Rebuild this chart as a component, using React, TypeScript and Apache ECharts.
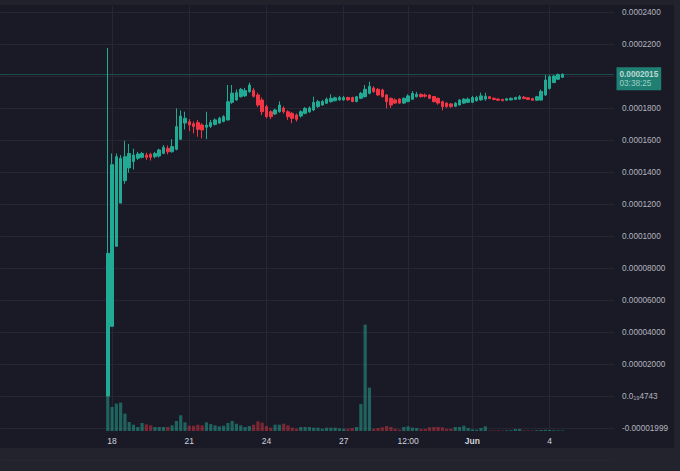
import React, { useEffect, useRef } from "react";
import * as echarts from "echarts";

// Prices in millionths (1 = 0.000001)
const OPEN = [0.5,44,94,121,135,143,147,149,149.6,151,151.5,150,150.4,152.1,155.2,153.1,154.6,160.9,171,171.9,170.6,171.3,169.8,168.4,168.9,170.2,171,172,173,184,185.4,187.5,188,190.6,191.5,188.6,185.4,181.3,178.1,176.7,178.1,180.4,178.1,177.1,176.1,175.4,177.1,178,179.2,181.3,182.3,183.4,184.4,185,185.5,185.5,187,187,184.5,186.5,187.5,189.6,193,192.1,191.7,188.6,186.5,185.5,186,183.5,184.5,185.9,187.5,189,188.5,188.5,187.6,186.5,184.4,183.5,183,181.5,182.3,183.5,184,184,185,185.5,186,187.5,186.5,186,185.8,185.3,185.5,185.8,186,187.2,186.8,186.3,185.3,185.4,188.6,192.7,196.3,198.4,199.6];
const CLOSE = [89.6,145,150,149,150,152,151,151.7,152,149.6,149.6,152,154.2,155.9,153.1,156.3,168.8,175.4,174,169.8,168.9,167.1,166.7,169.8,171.3,173,174.1,175,184.4,189.7,190,192.1,191.3,194.8,187.8,182.3,178.1,175,175,179.2,182.3,178.1,175,174,173.4,178.1,180.2,180.5,183.9,184.4,184.5,186,186.5,186.8,187,187,185.5,184.5,187.5,189.6,192.1,194,190.6,188.6,187.5,184.4,182.3,183.5,183.5,186.5,188,189.6,189,187.5,187.8,186.5,184.4,183.5,181.3,181.3,181.3,183.5,185.4,186,186,187,187,188,187.8,186.3,185.8,185.3,185,186.2,186.5,187,187.5,186.3,185.8,185.3,187.5,190.8,197.9,200,200.4,201.3,201.5];
const LOW = [0.2,44,94,121,133,140,142,148,149,148,147.6,149,149.5,151.5,151.5,152.5,154,160.5,167,166,164.6,162.5,161.5,161,168,169.5,170.5,171.5,172.5,183,185,187,187.5,190,187,181,176,174,173.5,176,177.5,177,173,170.9,172,174.5,176.5,177.5,178.5,180.5,181.8,183,183.8,184.5,185,185,185,184,184,186,187,189,190,188,187,180.2,180.5,183,183,183,184,185.5,187,187,187,186,184,182.5,179,180.5,180.5,181,182,183,183.5,183.5,184.5,185,185,186,185.3,185,184.7,185,185.2,185.5,185.7,186,185.5,185,185,185,188,192,196,198,199.3];
const HIGH = [218,152,152,151,160,158,155,153,153,152.5,152.5,153,155,157.3,157,160.9,180.2,179,178.1,173.5,172,173,171,178.1,173,174,175,176,194.8,194.8,192,193,193,196.3,193,190,187,182.5,179,180,184.6,181.5,179,178,177,179,181,181.5,187.5,185.5,185.5,187,189,187.5,188,188,187.5,187.5,188,190.5,194.8,196.9,194,193,192.5,189,187,186.5,186.5,187,189,191,190.5,189.5,189.5,189,188,187,185,184,183.5,184,186,186.5,187,188,188,190,190,188,187,186.5,186.2,186.5,187,187.5,188.5,188,187.3,186.8,188,192,201,201,201,202,202];
// Volume (relative units)
const VOLUME = [60,24,27.4,28.4,17.4,9,6.3,4,8,6.7,5.7,4,4,4,4,5.7,10,15.7,8.7,5.3,5.3,6.3,5.7,8.7,7,5.7,4.7,5.3,8,10,7.3,5.7,4,5,6.3,9.7,8.3,5,3.3,6.3,6.3,7.3,5.7,3.3,2.3,4,4,4,3.3,3.3,2.3,3.3,3.3,3.3,2.7,2.3,2.3,3,4,27,106.4,43.4,2.3,3,3.7,5,4,2.3,1.3,4,4.7,3.3,3,2,2,3.7,4,4,3.7,2.3,2.3,4,4,5.3,3,1.7,1.3,3,4.7,0.5,0.5,0.6,0.5,0.7,0.8,2,2,0.6,0.5,0.5,0.8,1,1.2,1,0.8,0.6,0.5];

const PAD_BEFORE = 25;
const PAD_AFTER = 12;
const START_MS = Date.UTC(2024, 4, 13, 16);
const STEP_MS = 4 * 3600 * 1000;

const X_TICK_LABELS: Record<string, string> = {
  "05-18 00:00": "18",
  "05-21 00:00": "21",
  "05-24 00:00": "24",
  "05-27 00:00": "27",
  "05-29 12:00": "12:00",
  "06-01 00:00": "{b|Jun}",
  "06-04 00:00": "4",
};

const Y_TICKS = [240, 220, 180, 160, 140, 120, 100, 80, 60, 40, 20, 0, -20];
const Y_TICK_LABELS = ["0.0002400", "0.0002200", "0.0001800", "0.0001600", "0.0001400", "0.0001200", "0.0001000", "0.00008000", "0.00006000", "0.00004000", "0.00002000", "0.0₁₉4743", "-0.00001999"];

const LAST_PRICE = 201.5;
const LAST_PRICE_LABEL = "0.0002015";
const COUNTDOWN = "03:38:25";

const UP = "#22ab94";
const DOWN = "#f23645";

function pad2(n: number) {
  return n < 10 ? "0" + n : "" + n;
}

export default function App() {
  const ref = useRef<HTMLDivElement>(null);
  useEffect(() => {
    if (!ref.current) return;
    const chart = echarts.init(ref.current, undefined, { renderer: "svg" });
    const n = PAD_BEFORE + OPEN.length + PAD_AFTER;
    const cats: string[] = [];
    for (let k = 0; k < n; k++) {
      const d = new Date(START_MS + k * STEP_MS);
      cats.push(pad2(d.getUTCMonth() + 1) + "-" + pad2(d.getUTCDate()) + " " + pad2(d.getUTCHours()) + ":" + pad2(d.getUTCMinutes()));
    }
    const candleData: any[] = [];
    const volData: any[] = [];
    for (let k = 0; k < n; k++) {
      const i = k - PAD_BEFORE;
      if (i >= 0 && i < OPEN.length) {
        candleData.push([OPEN[i], CLOSE[i], LOW[i], HIGH[i]]);
        const up = CLOSE[i] >= OPEN[i];
        volData.push({ value: VOLUME[i], itemStyle: { color: up ? "rgba(34,171,148,0.5)" : "rgba(242,54,69,0.45)" } });
      } else {
        candleData.push("-");
        volData.push("-");
      }
    }
    const isTick = (idx: number, v: string) => X_TICK_LABELS[v] !== undefined;
    const gridColor = "#262634";
    const option: any = {
      animation: false,
      backgroundColor: "#1a1a26",
      graphic: [
        { type: "rect", z: -10, shape: { x: 0, y: 448, width: 680, height: 23 }, style: { fill: "#23232e" } },
        { type: "rect", z: -10, shape: { x: 0, y: 0, width: 680, height: 5 }, style: { fill: "#22222d" } },
        { type: "rect", z: -10, shape: { x: 674, y: 0, width: 6, height: 471 }, style: { fill: "#23232e" } },
      ],
      grid: [
        { left: 0.5, right: 66, top: -19.3, bottom: 10.3, outerBoundsMode: "none", containLabel: false },
        { left: 0.5, right: 66, top: 6, bottom: 40, outerBoundsMode: "none", containLabel: false },
      ],
      xAxis: [
        {
          type: "category", gridIndex: 0, data: cats, boundaryGap: false,
          axisLine: { show: false }, axisTick: { show: false }, axisLabel: { show: false }, splitLine: { show: false },
          axisPointer: { show: false },
        },
        {
          type: "category", gridIndex: 1, data: cats, boundaryGap: false,
          axisLine: { show: false }, axisTick: { show: false },
          axisLabel: {
            interval: isTick, margin: 5, color: "#d1d4dc", fontSize: 8.5, fontFamily: "Liberation Sans",
            formatter: (v: string) => X_TICK_LABELS[v] || "",
            rich: { b: { fontWeight: "bold", fontSize: 8.5, color: "#d1d4dc", fontFamily: "Liberation Sans" } },
          },
          splitLine: { show: true, interval: isTick, lineStyle: { color: gridColor, width: 1 } },
        },
      ],
      yAxis: [
        {
          type: "value", gridIndex: 0, position: "right", min: -40, max: 260, interval: 20,
          axisLine: { show: false }, axisTick: { show: false },
          axisLabel: {
            margin: 8, color: "#b2b5be", fontSize: 8.2, fontFamily: "Liberation Sans",
            formatter: (v: number) => {
              const idx = Y_TICKS.findIndex((t) => Math.abs(t - v) < 1e-6);
              return idx >= 0 ? Y_TICK_LABELS[idx] : "";
            },
          },
          splitLine: { show: true, lineStyle: { color: gridColor, width: 1 } },
        },
        {
          type: "value", gridIndex: 1, min: 0, max: 425,
          axisLine: { show: false }, axisTick: { show: false }, axisLabel: { show: false }, splitLine: { show: false },
        },
      ],
      series: [
        {
          type: "bar", xAxisIndex: 1, yAxisIndex: 1, data: volData, barWidth: 3.2, z: 1,
        },
        {
          type: "candlestick", xAxisIndex: 0, yAxisIndex: 0, data: candleData, barWidth: 3, z: 3,
          itemStyle: { color: UP, color0: DOWN, borderColor: UP, borderColor0: DOWN, borderColorDoji: UP, borderWidth: 1, opacity: 1 },
          markLine: {
            silent: true, symbol: ["none", "none"], animation: false,
            lineStyle: { color: UP, type: "dotted", width: 1, opacity: 0.7 },
            label: {
              show: true, position: "end", distance: 2.5, offset: [0, 4.5],
              backgroundColor: UP, padding: [2, 3, 2, 3],
              formatter: () => "{a|" + LAST_PRICE_LABEL + "}\n{b|" + COUNTDOWN + "}",
              rich: {
                a: { color: "#ffffff", fontWeight: "bold", fontSize: 8.2, lineHeight: 9.5, fontFamily: "Liberation Sans" },
                b: { color: "#d8f3ee", fontSize: 8.2, lineHeight: 9.5, fontFamily: "Liberation Sans" },
              },
            },
            data: [{ yAxis: LAST_PRICE }],
          },
        },
      ],
    };
    chart.setOption(option);
    return () => chart.dispose();
  }, []);
  return <div ref={ref} style={{ position: "absolute", left: 0, top: 0, width: 680, height: 471 }} />;
}
